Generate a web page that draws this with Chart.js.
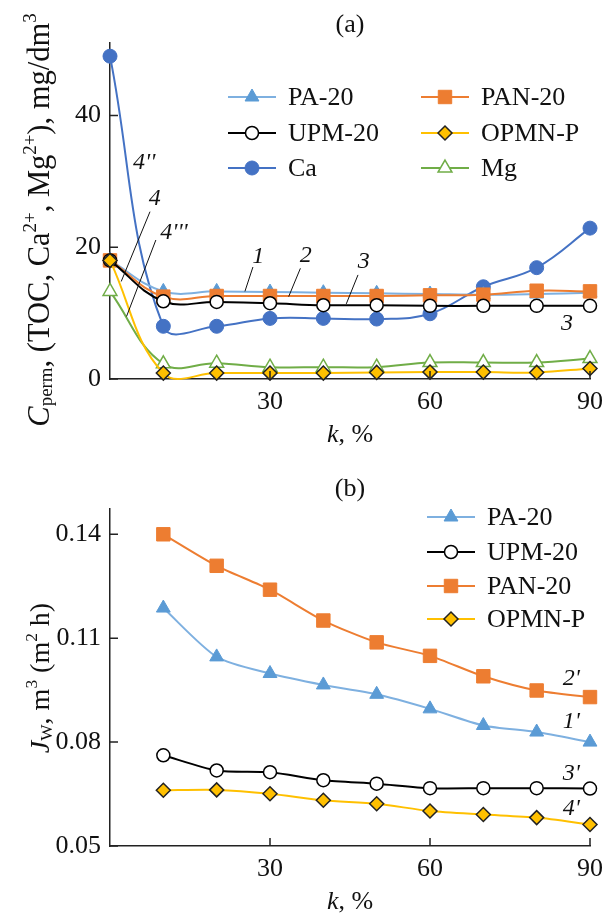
<!DOCTYPE html>
<html>
<head>
    <title>Permeate concentration and water flux vs k</title>
    <style>
        body { margin: 0; background: #fff; }
        canvas { display: block; }
    </style>
    <script src="https://cdn.jsdelivr.net/npm/chart.js"></script>
</head>
<body>
    <canvas id="permChart" width="611" height="457"></canvas>
    <canvas id="fluxChart" width="611" height="457"></canvas>
    <script>
        // (a) permeate concentration, mg/dm3
        var kTop = [0, 10, 20, 30, 40, 50, 60, 70, 80, 90];
        var pa20Perm = [18.0, 13.3, 13.3, 13.2, 13.1, 13.0, 12.9, 12.8, 12.9, 13.1];
        var pan20Perm = [18.0, 12.5, 12.6, 12.6, 12.6, 12.6, 12.7, 12.8, 13.4, 13.3];
        var upm20Perm = [18.0, 11.8, 11.7, 11.5, 11.2, 11.2, 11.1, 11.1, 11.1, 11.1];
        var opmnPerm = [18.0, 0.9, 0.9, 0.9, 0.9, 1.0, 1.05, 1.05, 1.0, 1.6];
        var caPerm = [49.0, 8.0, 8.0, 9.2, 9.2, 9.1, 9.9, 14.0, 16.9, 22.9];
        var mgPerm = [13.3, 2.3, 2.4, 1.8, 1.8, 1.8, 2.5, 2.5, 2.5, 3.1];
        var permTicks = [0, 20, 40];

        // (b) water flux, m3/(m2 h)
        var kBottom = [10, 20, 30, 40, 50, 60, 70, 80, 90];
        var pa20Flux = [0.1187, 0.1046, 0.0998, 0.0965, 0.0938, 0.0896, 0.0848, 0.0829, 0.0800];
        var upm20Flux = [0.0762, 0.0718, 0.0713, 0.0690, 0.0680, 0.0667, 0.0667, 0.0667, 0.0666];
        var pan20Flux = [0.1400, 0.1309, 0.1240, 0.1151, 0.1088, 0.1049, 0.0990, 0.0949, 0.0930];
        var opmnFlux = [0.0661, 0.0662, 0.0651, 0.0632, 0.0622, 0.0601, 0.0591, 0.0582, 0.0562];
        var fluxTicks = [0.05, 0.08, 0.11, 0.14];

        var kTicks = [30, 60, 90];

        var FONT = '"Liberation Serif", "Times New Roman", serif';
        Chart.defaults.font.family = FONT;
        Chart.defaults.font.size = 26;
        Chart.defaults.color = '#111';

        var styles = {
            'PA-20': { borderColor: '#7eb0e0', pointBackgroundColor: '#5b9bd5', pointBorderColor: '#5b9bd5', pointStyle: 'triangle', pointRadius: 8, pointBorderWidth: 1 },
            'PAN-20': { borderColor: '#ed7d31', pointBackgroundColor: '#ed7d31', pointBorderColor: '#ed7d31', pointStyle: 'rect', pointRadius: 9.5, pointBorderWidth: 1 },
            'UPM-20': { borderColor: '#000', pointBackgroundColor: '#fff', pointBorderColor: '#000', pointStyle: 'circle', pointRadius: 6.5, pointBorderWidth: 1.5 },
            'OPMN-P': { borderColor: '#ffc000', pointBackgroundColor: '#ffc000', pointBorderColor: '#222', pointStyle: 'rectRot', pointRadius: 7, pointBorderWidth: 1.5 },
            'Ca': { borderColor: '#4472c4', pointBackgroundColor: '#4472c4', pointBorderColor: '#4472c4', pointStyle: 'circle', pointRadius: 7, pointBorderWidth: 1 },
            'Mg': { borderColor: '#70ad47', pointBackgroundColor: '#fff', pointBorderColor: '#70ad47', pointStyle: 'triangle', pointRadius: 8, pointBorderWidth: 1.5 }
        };

        function series(label, xs, ys, order) {
            var ds = {
                label: label,
                data: xs.map(function (x, i) { return { x: x, y: ys[i] }; }),
                borderWidth: 2,
                order: order,
                clip: false
            };
            return Object.assign(ds, styles[label]);
        }

        // draws text made of runs (italic / subscript / superscript), centred on (x, y) baseline
        function drawRuns(ctx, runs, x, y, size, rotate) {
            ctx.save();
            ctx.translate(x, y);
            if (rotate) ctx.rotate(-Math.PI / 2);
            ctx.textBaseline = 'alphabetic';
            ctx.textAlign = 'left';
            ctx.fillStyle = '#111';
            function font(r) {
                var s = (r.sub || r.sup) ? size * 0.62 : size;
                return (r.it ? 'italic ' : '') + s + 'px ' + FONT;
            }
            var total = 0;
            runs.forEach(function (r) { ctx.font = font(r); r.w = ctx.measureText(r.t).width; total += r.w; });
            var cx = -total / 2;
            runs.forEach(function (r) {
                ctx.font = font(r);
                var dy = r.sub ? size * 0.1 : (r.sup ? -size * 0.42 : 0);
                ctx.fillText(r.t, cx, dy);
                cx += r.w;
            });
            ctx.restore();
        }

        var decorations = {
            id: 'decorations',
            afterDraw: function (chart, args, opts) {
                var ctx = chart.ctx, a = chart.chartArea;
                var sx = chart.scales.x, sy = chart.scales.y;
                var mid = (a.left + a.right) / 2;

                // tick marks pointing inside
                ctx.save();
                ctx.strokeStyle = '#222';
                ctx.lineWidth = 1.5;
                ctx.beginPath();
                sy.ticks.forEach(function (t) {
                    var py = sy.getPixelForValue(t.value);
                    ctx.moveTo(a.left, py); ctx.lineTo(a.left + 8, py);
                });
                sx.ticks.forEach(function (t) {
                    var px = sx.getPixelForValue(t.value);
                    ctx.moveTo(px, a.bottom); ctx.lineTo(px, a.bottom - 8);
                });
                ctx.stroke();
                ctx.restore();

                // panel title and axis titles
                drawRuns(ctx, [{ t: opts.title }], mid, opts.titleY, 26, false);
                drawRuns(ctx, [{ t: 'k', it: true }, { t: ', %' }], mid, a.bottom + 63, 26, false);
                drawRuns(ctx, opts.yTitle, 49, opts.yTitleMid, opts.yTitleSize, true);

                // curve numbers with leader lines
                ctx.save();
                ctx.strokeStyle = '#111';
                ctx.lineWidth = 1;
                ctx.fillStyle = '#111';
                ctx.font = 'italic 24px ' + FONT;
                ctx.textAlign = 'center';
                ctx.textBaseline = 'middle';
                opts.notes.forEach(function (n) {
                    ctx.fillText(n.t, sx.getPixelForValue(n.k), sy.getPixelForValue(n.v));
                    if (n.lead) {
                        ctx.beginPath();
                        ctx.moveTo(sx.getPixelForValue(n.lead[0]), sy.getPixelForValue(n.lead[1]));
                        ctx.lineTo(sx.getPixelForValue(n.lead[2]), sy.getPixelForValue(n.lead[3]));
                        ctx.stroke();
                    }
                });
                ctx.restore();

                // legend: line + marker + label
                opts.legend.forEach(function (it) {
                    var ds = chart.data.datasets[it.ds];
                    ctx.save();
                    ctx.strokeStyle = ds.borderColor;
                    ctx.lineWidth = 2;
                    ctx.beginPath();
                    ctx.moveTo(it.x, it.y); ctx.lineTo(it.x + 48, it.y);
                    ctx.stroke();
                    ctx.fillStyle = ds.pointBackgroundColor;
                    ctx.strokeStyle = ds.pointBorderColor;
                    ctx.lineWidth = ds.pointBorderWidth;
                    if (Chart.helpers && Chart.helpers.drawPoint) {
                        Chart.helpers.drawPoint(ctx, { pointStyle: ds.pointStyle, radius: ds.pointRadius, borderWidth: ds.pointBorderWidth, rotation: 0 }, it.x + 24, it.y);
                    }
                    ctx.fillStyle = '#111';
                    ctx.font = '26px ' + FONT;
                    ctx.textBaseline = 'middle';
                    ctx.fillText(ds.label, it.x + 60, it.y + 1);
                    ctx.restore();
                });
            }
        };

        function axes(yMin, yMax, yTicks, yFmt, xHeight) {
            return {
                x: {
                    type: 'linear', min: 0, max: 90,
                    afterBuildTicks: function (s) { s.ticks = kTicks.map(function (v) { return { value: v }; }); },
                    afterFit: function (s) { s.height = xHeight; },
                    grid: { display: false, drawTicks: false },
                    border: { display: true, color: '#222', width: 1.5 },
                    ticks: { padding: 8, maxRotation: 0 }
                },
                y: {
                    type: 'linear', min: yMin, max: yMax,
                    afterBuildTicks: function (s) { s.ticks = yTicks.map(function (v) { return { value: v }; }); },
                    afterFit: function (s) { s.width = 110; },
                    grid: { display: false, drawTicks: false },
                    border: { display: true, color: '#222', width: 1.5 },
                    ticks: { padding: 9, callback: yFmt }
                }
            };
        }

        new Chart(document.getElementById('permChart'), {
            type: 'line',
            data: {
                datasets: [
                    series('PA-20', kTop, pa20Perm, 4),
                    series('PAN-20', kTop, pan20Perm, 3),
                    series('UPM-20', kTop, upm20Perm, 2),
                    series('OPMN-P', kTop, opmnPerm, 1),
                    series('Ca', kTop, caPerm, 5),
                    series('Mg', kTop, mgPerm, 6)
                ]
            },
            options: {
                responsive: false,
                animation: false,
                layout: { padding: { top: 43, right: 14, left: 0, bottom: 0 } },
                elements: { line: { tension: 0.4, capBezierPoints: false } },
                scales: axes(0, 51, permTicks, function (v) { return String(v); }, 78),
                plugins: {
                    legend: { display: false },
                    tooltip: { enabled: false },
                    decorations: {
                        title: '(a)',
                        titleY: 32,
                        yTitleMid: 220,
                        yTitleSize: 30.5,
                        yTitle: [
                            { t: 'C', it: true }, { t: 'perm', sub: true },
                            { t: ', (TOC, Ca' }, { t: '2+', sup: true },
                            { t: ', Mg' }, { t: '2+', sup: true },
                            { t: '), mg/dm' }, { t: '3', sup: true }
                        ],
                        notes: [
                            { t: '1', k: 27.8, v: 18.6, lead: [26.8, 17.0, 25.3, 13.3] },
                            { t: '2', k: 36.7, v: 18.7, lead: [35.7, 16.8, 33.5, 12.5] },
                            { t: '3', k: 47.6, v: 17.8, lead: [46.5, 15.8, 44.3, 11.4] },
                            { t: '3', k: 85.7, v: 8.4 },
                            { t: "4''", k: 6.4, v: 32.8 },
                            { t: '4', k: 8.4, v: 27.3, lead: [7.5, 25.4, 2.1, 14.8] },
                            { t: "4'''", k: 12.0, v: 22.2, lead: [8.6, 21.1, 3.1, 9.5] }
                        ],
                        legend: [
                            { ds: 0, x: 228, y: 97 }, { ds: 1, x: 421, y: 97 },
                            { ds: 2, x: 228, y: 133 }, { ds: 3, x: 421, y: 133 },
                            { ds: 4, x: 228, y: 168 }, { ds: 5, x: 421, y: 168 }
                        ]
                    }
                }
            },
            plugins: [decorations]
        });

        new Chart(document.getElementById('fluxChart'), {
            type: 'line',
            data: {
                datasets: [
                    series('PA-20', kBottom, pa20Flux, 3),
                    series('UPM-20', kBottom, upm20Flux, 2),
                    series('PAN-20', kBottom, pan20Flux, 4),
                    series('OPMN-P', kBottom, opmnFlux, 1)
                ]
            },
            options: {
                responsive: false,
                animation: false,
                layout: { padding: { top: 52, right: 14, left: 0, bottom: 0 } },
                elements: { line: { tension: 0.25 } },
                scales: axes(0.05, 0.1473, fluxTicks, function (v) { return v.toFixed(2); }, 68),
                plugins: {
                    legend: { display: false },
                    tooltip: { enabled: false },
                    decorations: {
                        title: '(b)',
                        titleY: 39,
                        yTitleMid: 221,
                        yTitleSize: 28,
                        yTitle: [
                            { t: 'J', it: true }, { t: 'W', sub: true },
                            { t: ', m' }, { t: '3', sup: true },
                            { t: ' (m' }, { t: '2', sup: true }, { t: ' h)' }
                        ],
                        notes: [
                            { t: "2'", k: 86.5, v: 0.0982 },
                            { t: "1'", k: 86.5, v: 0.0858 },
                            { t: "3'", k: 86.5, v: 0.0710 },
                            { t: "4'", k: 86.5, v: 0.0609 }
                        ],
                        legend: [
                            { ds: 0, x: 427, y: 60 },
                            { ds: 1, x: 427, y: 95 },
                            { ds: 2, x: 427, y: 129 },
                            { ds: 3, x: 427, y: 162 }
                        ]
                    }
                }
            },
            plugins: [decorations]
        });
    </script>
</body>
</html>
